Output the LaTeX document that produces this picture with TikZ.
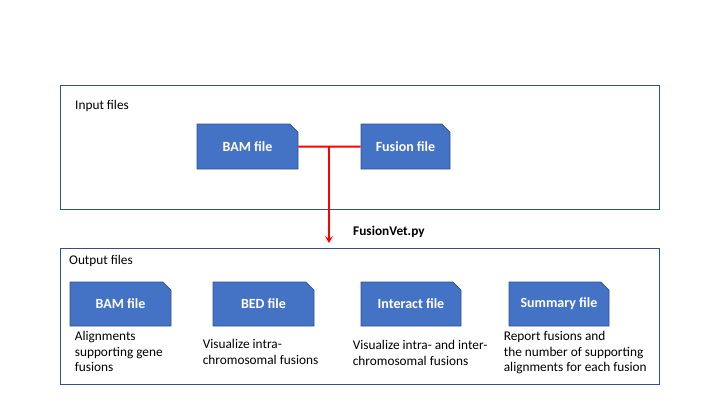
\documentclass[tikz,border=0pt]{standalone}
\usepackage{fontspec}
\setmainfont{Carlito}
\usetikzlibrary{arrows.meta,calc,positioning,shapes.misc}
\definecolor{boxfill}{HTML}{4472C4}
\definecolor{boxline}{HTML}{2F528F}
\definecolor{frameline}{HTML}{2F528F}
\definecolor{flowred}{HTML}{FF0000}

\begin{document}
\begin{tikzpicture}[x=1pt,y=-1pt,>=Stealth,font=\fontsize{13.3}{15.6}\selectfont,
  filebox/.style={chamfered rectangle,chamfered rectangle corners=north east,chamfered rectangle xsep=5pt,draw=boxline,line width=0.7pt,fill=boxfill,text=white,font=\fontsize{14}{16}\selectfont\bfseries,minimum height=45pt,inner sep=0pt},
  note/.style={align=left,inner sep=0pt},
  frame/.style={draw=frameline,line width=0.9pt},
  link/.style={draw=flowred,line width=2pt}]
\useasboundingbox (0,0) rectangle (720,405);
% input block
\draw[frame] (60,85) rectangle (659,209);
\node[anchor=base west,inner sep=0pt] (inlabel) at (75,109) {Input files};
\node[filebox,minimum width=101pt] (ibam) at (247.5,146.5) {BAM file};
\node[filebox,minimum width=89pt] (ifus) at (405.5,146.5) {Fusion file};
% output block
\draw[frame] (60,248) rectangle (659,384);
\node[anchor=base west,inner sep=0pt] (outlabel) at (69,264) {Output files};
\node[filebox,minimum width=101pt,minimum height=44pt] (obam) at (120.5,304) {BAM file};
\node[filebox,minimum width=101pt,minimum height=44pt] (obed) at (263.5,304) {BED file};
\node[filebox,minimum width=100pt,minimum height=44pt] (oint) at (411,304) {Interact file};
\node[filebox,minimum width=100pt,minimum height=44pt] (osum) at (559,304) {Summary file};
\node[note,below right=5pt and 5pt of obam.south west] (bamnote) {Alignments\\supporting gene\\fusions};
\node[note,below right=13pt and -10pt of obed.south west] (bednote) {Visualize intra-\\chromosomal fusions};
\node[note,below right=14pt and -8pt of oint.south west] (intnote) {Visualize intra- and inter-\\chromosomal fusions};
\node[note,below right=5pt and -5pt of osum.south west] (sumnote) {Report fusions and\\the number of supporting\\alignments for each fusion};
% script
\coordinate (split) at (329,146.5);
\coordinate (toolin) at (329,243);
\node[anchor=base west,inner sep=0pt,font=\fontsize{13.3}{15.6}\selectfont\bfseries] (tool) at (353,235) {FusionVet.py};
\draw[link] (ibam) -- (ifus);
\draw[link,-{Stealth[length=7pt,width=8pt,inset=3pt]}] (split) -- (toolin);
\end{tikzpicture}
\end{document}
